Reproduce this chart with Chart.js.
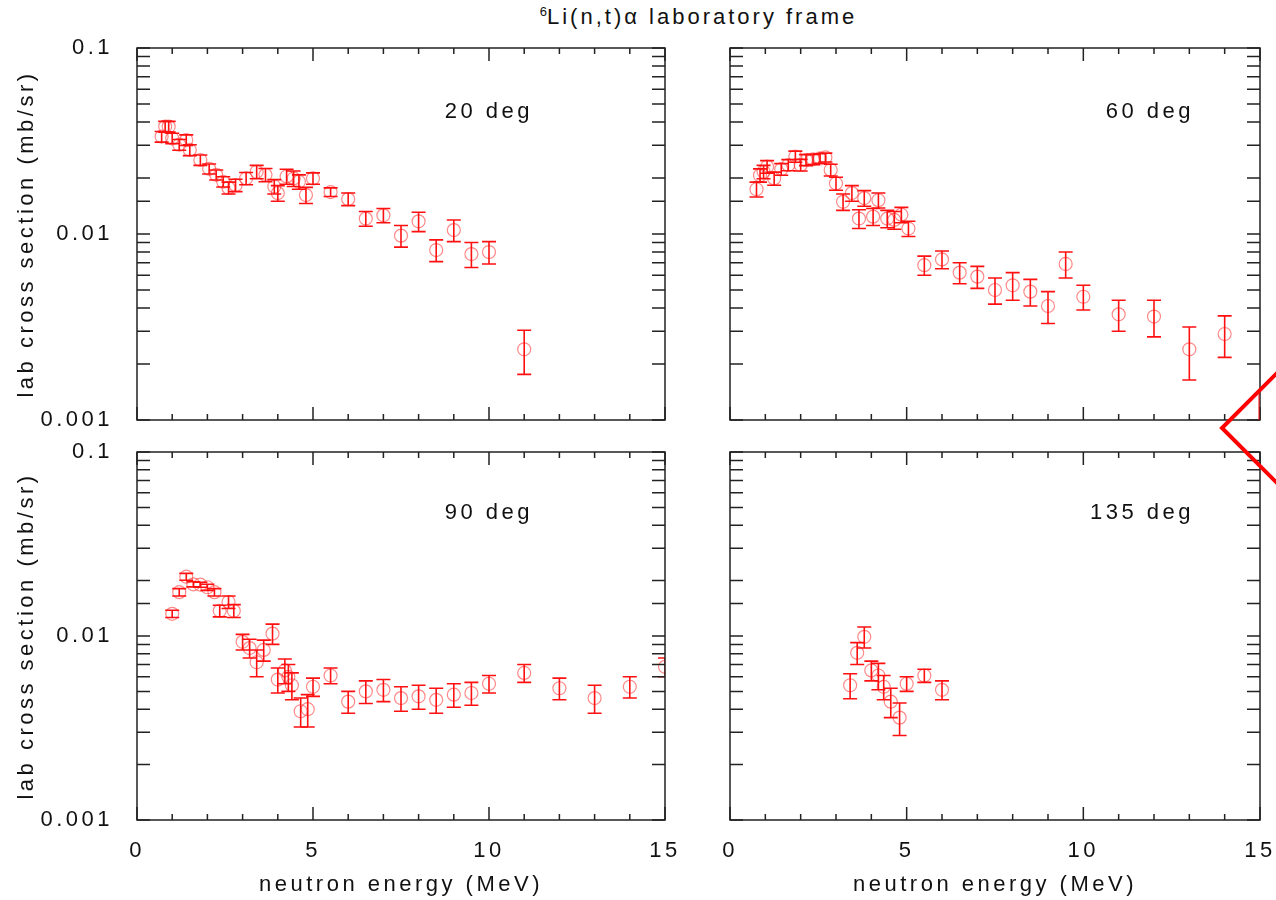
<!DOCTYPE html>
<html>
<head>
<meta charset="utf-8">
<script src="https://cdn.jsdelivr.net/npm/chart.js@4"></script>
<style>
  body { margin: 0; background: #fff; width: 1276px; height: 900px; overflow: hidden; position: relative; font-family: "Liberation Sans", Arial, sans-serif; }
  canvas { position: absolute; }
  #title { position: absolute; left: 137px; width: 1123px; top: 4px; text-align: center; font-size: 22px; letter-spacing: 3px; color: #111; }
  #title sup { font-size: 13px; letter-spacing: 0; }
  #stamp { position: absolute; left: 0; top: 0; }
</style>
</head>
<body>
<div id="title"><sup>6</sup>Li(n,t)α laboratory frame</div>
<canvas id="p20" width="680" height="440" style="left:0;top:0"></canvas>
<canvas id="p60" width="576" height="440" style="left:700px;top:0"></canvas>
<canvas id="p90" width="680" height="470" style="left:0;top:430px"></canvas>
<canvas id="p135" width="576" height="470" style="left:700px;top:430px"></canvas>
<svg id="stamp" width="1276" height="900">
  <polyline points="1280,370 1222,428 1280,486" fill="none" stroke="#ff0000" stroke-width="4"/>
  <line x1="1259" y1="390" x2="1259" y2="420" stroke="#ff0000" stroke-width="1"/>
</svg>
<script>
// neutron energy (MeV), lab cross section (mb/sr) and its error, per angle
const e20 = [0.7,0.8,0.9,1.0,1.2,1.4,1.5,1.8,2.05,2.25,2.45,2.6,2.8,3.1,3.4,3.65,3.9,4.0,4.25,4.45,4.6,4.8,5.0,5.5,6.0,6.5,7.0,7.5,8.0,8.5,9.0,9.5,10.0,11.0];
const v20 = [0.0334,0.0378,0.0378,0.0327,0.0302,0.0320,0.0283,0.0250,0.0224,0.0208,0.0191,0.0177,0.0183,0.0199,0.0216,0.0208,0.0180,0.0166,0.0204,0.0199,0.0191,0.0162,0.0199,0.0168,0.0154,0.0121,0.0126,0.0098,0.0117,0.0082,0.0105,0.0078,0.0080,0.0024];
const err20 = [0.0022,0.0025,0.0025,0.0021,0.0020,0.0021,0.0019,0.0016,0.0014,0.0013,0.0012,0.0013,0.0014,0.0015,0.0018,0.0017,0.0016,0.0016,0.0019,0.0019,0.0017,0.0016,0.0014,0.0009,0.0012,0.0011,0.0011,0.0013,0.0014,0.0011,0.0014,0.0012,0.0011,0.00064];

const e60 = [0.75,0.85,0.95,1.05,1.25,1.45,1.65,1.85,2.0,2.15,2.35,2.55,2.7,2.85,3.0,3.2,3.45,3.65,3.8,4.05,4.2,4.45,4.65,4.85,5.05,5.5,6.0,6.5,7.0,7.5,8.0,8.5,9.0,9.5,10.0,11.0,12.0,13.0,14.0];
const v60 = [0.0174,0.0207,0.0216,0.0230,0.0199,0.0223,0.0235,0.0261,0.0235,0.0250,0.0252,0.0255,0.0258,0.0221,0.0187,0.0149,0.0166,0.0121,0.0156,0.0124,0.0152,0.0121,0.0119,0.0127,0.0107,0.0068,0.0073,0.0062,0.0059,0.0050,0.0053,0.0049,0.0041,0.0069,0.0046,0.0037,0.0036,0.0024,0.0029];
const err60 = [0.0016,0.0017,0.0018,0.0018,0.0016,0.0016,0.0016,0.0018,0.0017,0.0017,0.0016,0.0015,0.0014,0.0016,0.0015,0.0015,0.0016,0.0014,0.0015,0.0013,0.0014,0.0013,0.0013,0.0012,0.0010,0.0008,0.0008,0.0008,0.0008,0.0008,0.0009,0.0008,0.0008,0.0011,0.0007,0.0007,0.0008,0.00076,0.00073];

const e90 = [1.0,1.2,1.4,1.6,1.8,2.0,2.2,2.35,2.6,2.75,3.0,3.2,3.4,3.6,3.85,4.0,4.2,4.3,4.4,4.65,4.85,5.0,5.5,6.0,6.5,7.0,7.5,8.0,8.5,9.0,9.5,10.0,11.0,12.0,13.0,14.0,15.0];
const v90 = [0.0132,0.0173,0.0210,0.0191,0.0190,0.0184,0.0173,0.0137,0.0153,0.0137,0.0093,0.0086,0.0072,0.0084,0.0103,0.0058,0.0065,0.0060,0.0054,0.0039,0.0040,0.0053,0.0061,0.0044,0.0050,0.0051,0.0046,0.0047,0.0045,0.0048,0.0049,0.0055,0.0063,0.0052,0.0046,0.0053,0.0068];
const err90 = [0.0006,0.0008,0.0009,0.0006,0.0006,0.0007,0.0008,0.0010,0.0012,0.0011,0.0009,0.0010,0.0012,0.0011,0.0013,0.0009,0.0010,0.0010,0.0009,0.0007,0.0008,0.0006,0.0006,0.0006,0.0007,0.0007,0.0007,0.0007,0.0007,0.0007,0.0007,0.0006,0.0007,0.0007,0.0008,0.0007,0.0008];

const e135 = [3.4,3.6,3.8,4.0,4.2,4.35,4.55,4.8,5.0,5.5,6.0];
const v135 = [0.0054,0.0081,0.0099,0.0065,0.0061,0.0053,0.0044,0.0036,0.0055,0.0061,0.0051];
const err135 = [0.00084,0.0011,0.0013,0.0008,0.0010,0.0008,0.0008,0.00072,0.0005,0.0005,0.0006];

const xMajor = [0, 5, 10, 15];
const yLabels = {0.001: '0.001', 0.01: '0.01', 0.1: '0.1'};

Chart.defaults.font.family = '"Liberation Sans", Arial, sans-serif';
Chart.defaults.font.size = 22;
Chart.defaults.color = '#111';

// wide letter spacing like the original plot
const spacing = {
  id: 'spacing',
  beforeUpdate(chart) { chart.ctx.letterSpacing = '3.5px'; },
  beforeDraw(chart) { chart.ctx.letterSpacing = '3.5px'; }
};

const isDecade = v => Math.abs(Math.log10(v) - Math.round(Math.log10(v))) < 1e-6;

// error bars, drawn through the scales
const errorBars = {
  id: 'errorBars',
  afterDatasetsDraw(chart) {
    const {ctx, chartArea: a, scales: {x, y}} = chart;
    ctx.save();
    ctx.beginPath();
    ctx.rect(a.left, a.top, a.right - a.left, a.bottom - a.top);
    ctx.clip();
    ctx.strokeStyle = '#ff1010';
    ctx.lineWidth = 1.6;
    chart.data.datasets.forEach(ds => ds.data.forEach(p => {
      const px = x.getPixelForValue(p.x);
      const hi = y.getPixelForValue(p.y + p.err);
      const lo = y.getPixelForValue(p.y - p.err);
      ctx.beginPath();
      ctx.moveTo(px, hi); ctx.lineTo(px, lo);
      ctx.moveTo(px - 7, hi); ctx.lineTo(px + 7, hi);
      ctx.moveTo(px - 7, lo); ctx.lineTo(px + 7, lo);
      ctx.stroke();
    }));
    ctx.restore();
  }
};

// box around the plot with inward ticks on all four sides, plus the angle label
const frame = {
  id: 'frame',
  afterDraw(chart) {
    const {ctx, chartArea: a, scales: {x, y}} = chart;
    ctx.save();
    ctx.strokeStyle = '#222';
    ctx.lineWidth = 1.5;
    ctx.strokeRect(a.left, a.top, a.right - a.left, a.bottom - a.top);
    ctx.beginPath();
    x.ticks.forEach(t => {
      const px = x.getPixelForValue(t.value);
      const len = xMajor.includes(t.value) ? 13 : 6;
      ctx.moveTo(px, a.top); ctx.lineTo(px, a.top + len);
      ctx.moveTo(px, a.bottom); ctx.lineTo(px, a.bottom - len);
    });
    y.ticks.forEach(t => {
      const py = y.getPixelForValue(t.value);
      ctx.moveTo(a.left, py); ctx.lineTo(a.left + 13, py);
      ctx.moveTo(a.right, py); ctx.lineTo(a.right - 13, py);
    });
    ctx.stroke();
    const lab = chart.options.plugins.frame;
    ctx.font = '22px "Liberation Sans", Arial, sans-serif';
    ctx.fillStyle = '#111';
    ctx.textAlign = 'right';
    ctx.textBaseline = 'middle';
    ctx.fillText(lab.text, a.right - lab.right, a.top + lab.top);
    ctx.restore();
  }
};

function makePanel(id, energy, values, errors, opt) {
  const pts = energy.map((e, i) => ({x: e, y: values[i], err: errors[i]}));
  return new Chart(document.getElementById(id), {
    type: 'scatter',
    data: {
      datasets: [{
        data: pts,
        pointStyle: 'circle',
        pointRadius: 6.5,
        pointBorderWidth: 1.2,
        borderColor: 'rgba(255,40,40,0.55)',
        backgroundColor: 'rgba(0,0,0,0)',
        clip: 0
      }]
    },
    options: {
      responsive: false,
      animation: false,
      events: [],
      layout: {padding: opt.padding},
      plugins: {
        legend: {display: false},
        tooltip: {enabled: false},
        frame: {text: opt.label, right: opt.labelRight, top: opt.labelTop}
      },
      scales: {
        x: {
          type: 'linear', min: 0, max: 15,
          grid: {display: false, drawTicks: false},
          border: {display: false},
          ticks: {
            display: opt.xLabels, stepSize: 1, autoSkip: false, maxRotation: 0, padding: 18,
            callback: v => xMajor.includes(v) ? String(v) : ''
          },
          title: {display: opt.xLabels, text: 'neutron energy (MeV)', padding: {top: 0, bottom: 2}},
          afterFit: s => { s.height = opt.xHeight; s.paddingLeft = 0; s.paddingRight = 0; }
        },
        y: {
          type: 'logarithmic', min: 0.001, max: 0.1,
          grid: {display: false, drawTicks: false},
          border: {display: false},
          ticks: {
            display: opt.yLabels, autoSkip: false, padding: 24,
            callback: v => isDecade(v) ? yLabels[Number(v.toPrecision(1))] : ''
          },
          title: {display: opt.yLabels, text: 'lab cross section (mb/sr)', padding: {top: 14, bottom: 0}},
          afterFit: s => { s.width = opt.yWidth; s.paddingTop = 0; s.paddingBottom = 0; }
        }
      }
    },
    plugins: [spacing, errorBars, frame]
  });
}

makePanel('p20', e20, v20, err20, {
  label: '20 deg', labelRight: 132, labelTop: 64,
  padding: {top: 48, bottom: 20, right: 15, left: 0},
  xLabels: false, yLabels: true, xHeight: 0, yWidth: 137
});
makePanel('p60', e60, v60, err60, {
  label: '60 deg', labelRight: 66, labelTop: 64,
  padding: {top: 48, bottom: 20, right: 16, left: 0},
  xLabels: false, yLabels: false, xHeight: 0, yWidth: 30
});
makePanel('p90', e90, v90, err90, {
  label: '90 deg', labelRight: 132, labelTop: 61,
  padding: {top: 22, bottom: 0, right: 15, left: 0},
  xLabels: true, yLabels: true, xHeight: 80, yWidth: 137
});
makePanel('p135', e135, v135, err135, {
  label: '135 deg', labelRight: 66, labelTop: 61,
  padding: {top: 22, bottom: 0, right: 16, left: 0},
  xLabels: true, yLabels: false, xHeight: 80, yWidth: 30
});
</script>
</body>
</html>
